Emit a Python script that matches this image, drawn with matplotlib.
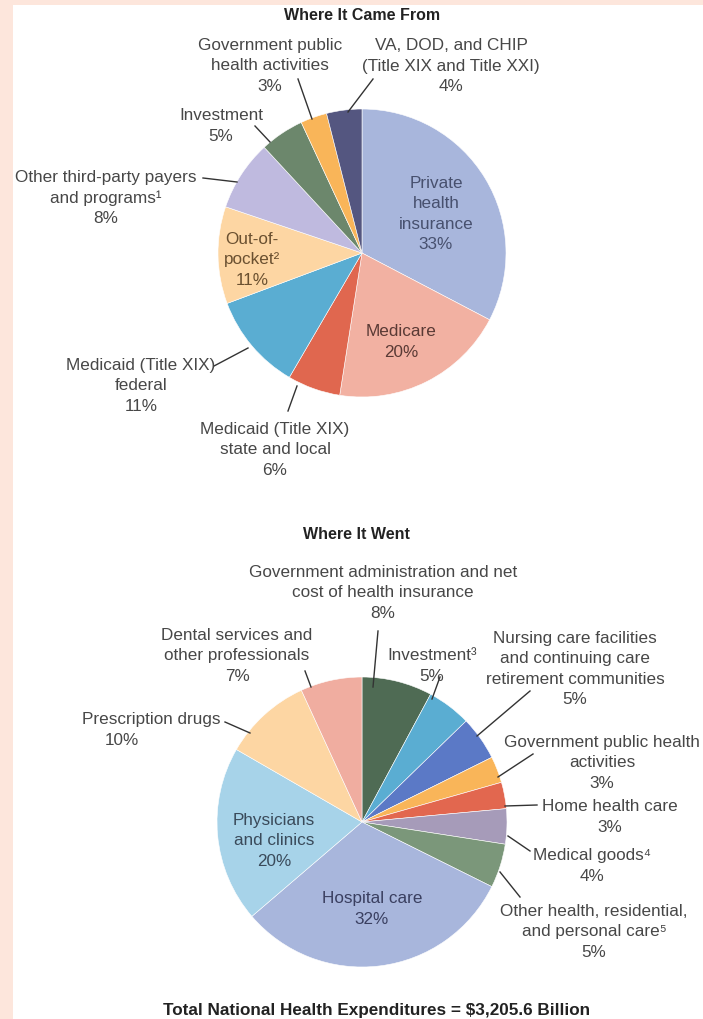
import matplotlib
matplotlib.use("Agg")
import matplotlib.pyplot as plt
from matplotlib.patches import Rectangle

plt.rcParams['font.family'] = ['Liberation Sans', 'DejaVu Sans']

# where it came from (clockwise from 12 o'clock)
src_labels = ["Private\nhealth\ninsurance\n33%", "Medicare\n20%",
              "Medicaid (Title XIX)\nstate and local\n6%",
              "Medicaid (Title XIX)\nfederal\n11%",
              "Out-of-\npocket\u00b2\n11%",
              "Other third-party payers\nand programs\u00b9\n8%",
              "Investment\n5%",
              "Government public\nhealth activities\n3%",
              "VA, DOD, and CHIP\n(Title XIX and Title XXI)\n4%"]
src_values = [33, 20, 6, 11, 11, 8, 5, 3, 4]
src_colors = ["#a8b6dc", "#f2b1a2", "#e0674f", "#5aadd2", "#fdd6a3",
              "#bfbadf", "#6c876c", "#f9b559", "#545680"]

# where it went (clockwise from 12 o'clock)
use_labels = ["Government administration and net\ncost of health insurance\n8%",
              "Investment\u00b3\n5%",
              "Nursing care facilities\nand continuing care\nretirement communities\n5%",
              "Government public health\nactivities\n3%",
              "Home health care\n3%",
              "Medical goods\u2074\n4%",
              "Other health, residential,\nand personal care\u2075\n5%",
              "Hospital care\n32%",
              "Physicians\nand clinics\n20%",
              "Prescription drugs",
              "Dental services and\nother professionals\n7%"]
use_values = [8, 5, 5, 3, 3, 4, 5, 32, 20, 10, 7]
use_colors = ["#4f6b54", "#5aadd2", "#5b79c6", "#f9b559", "#e2674f",
              "#a69bb9", "#7b977a", "#a8b6dc", "#a7d3e9", "#fdd6a3", "#f0ada0"]

W, H = 703, 1020
fig = plt.figure(figsize=(W / 100, H / 100), dpi=100)
fig.patch.set_facecolor("#fde6dc")
fig.patches.append(Rectangle((13 / W, 0), 1, 1 - 6 / H, transform=fig.transFigure,
                             facecolor="white", edgecolor="none", zorder=-5))

ax = fig.add_axes([0, 0, 1, 1])
ax.patch.set_alpha(0)

wp = dict(edgecolor="white", linewidth=0.4)
# y axis is flipped below, so counterclock=True draws clockwise on screen
ax.pie(src_values, colors=src_colors, startangle=-90, counterclock=True,
       center=(362, 254), radius=144, wedgeprops=wp)
ax.pie(use_values, colors=use_colors, startangle=-90, counterclock=True,
       center=(362, 823), radius=145, wedgeprops=wp)
ax.set_aspect("auto")
ax.set_xlim(0, W)
ax.set_ylim(H, 0)
ax.axis("off")

grey = "#474747"
fs = 12.3
ls = 1.45

# label positions (centre of text block) and text colours
src_pos = [(436, 214, "#47506e"), (401, 342, "#5a3a35"), (275, 450, grey),
           (141, 386, grey), (252, 260, "#6a5030"), (106, 198, grey),
           (221, 126, grey), (270, 66, grey), (451, 66, grey)]
use_pos = [(383, 593, grey), (432, 666, grey), (575, 669, grey),
           (602, 763, grey), (610, 817, grey), (592, 866, grey),
           (594, 932, grey), (372, 909, "#3a3f60"), (274, 841, "#3a4a5a"),
           (151, 720, grey), (237, 656, grey)]

for lab, (x, y, c) in zip(src_labels, src_pos):
    ax.text(x, y, lab, ha="center", va="center", fontsize=fs, color=c,
            linespacing=ls)
for lab, (x, y, c) in zip(use_labels, use_pos):
    ax.text(x, y, lab, ha="center", va="center", fontsize=fs, color=c,
            linespacing=ls)
ax.text(122, 741, "10%", ha="center", va="center", fontsize=fs, color=grey)

# leader lines
leaders = [
    ((298, 80), (312, 120)), ((373, 80), (348, 113)), ((255, 127), (270, 143)),
    ((203, 179), (237, 183)), ((214, 367), (248, 349)), ((288, 412), (297, 387)),
    ((378, 632), (373, 688)), ((305, 672), (311, 688)), ((440, 678), (432, 700)),
    ((530, 692), (477, 737)), ((225, 723), (250, 734)), ((533, 755), (498, 778)),
    ((505, 807), (537, 806)), ((508, 837), (530, 852)), ((500, 873), (520, 898)),
]
for (x1, y1), (x2, y2) in leaders:
    ax.plot([x1, x2], [y1, y2], color="#333333", lw=1)

ax.text(362, 15, "Where It Came From", ha="center", va="center",
        fontsize=11.5, fontweight="bold", color="#222222")
ax.text(356, 535, "Where It Went", ha="center", va="center",
        fontsize=11.5, fontweight="bold", color="#222222")
ax.text(377, 1011, "Total National Health Expenditures = $3,205.6 Billion",
        ha="center", va="center", fontsize=12.3, fontweight="bold",
        color="#222222")

fig.savefig("out.png", dpi=100, facecolor=fig.get_facecolor())
